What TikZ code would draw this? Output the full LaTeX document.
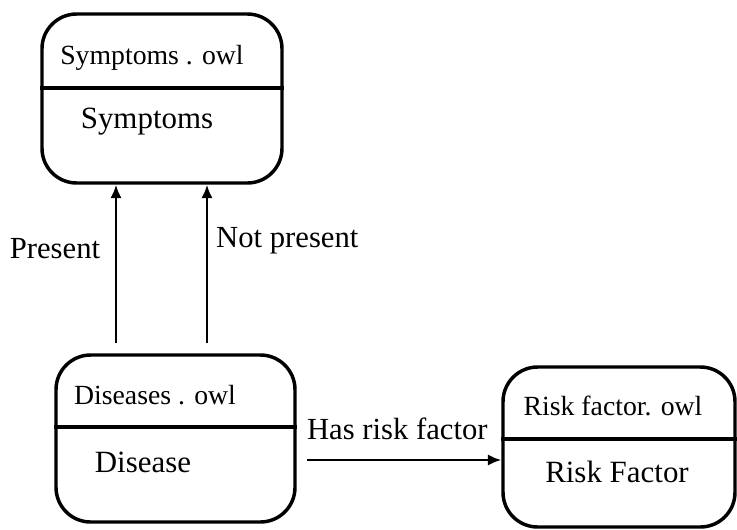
\documentclass[tikz,border=0pt]{standalone}
\usepackage{fontspec}
\setmainfont{Liberation Serif}
\usetikzlibrary{arrows.meta,calc}

\begin{document}
\begin{tikzpicture}[
  x=0.75pt, y=-0.75pt,
  owlbox/.style={draw, line width=2.6pt, rounded corners=26pt, inner sep=0pt},
  divline/.style={line width=2.6pt},
  head/.style={font=\fontsize{20.8}{24}\selectfont, inner sep=0pt},
  body/.style={font=\fontsize{23.2}{27}\selectfont, inner sep=0pt},
  rel/.style={-{Latex[length=10pt,width=8.5pt]}, line width=1.8pt},
  lab/.style={font=\fontsize{23}{27}\selectfont, inner sep=0pt}]
\useasboundingbox (0,0) rectangle (737,529);
% ontology boxes
\node[owlbox, minimum width=180pt, minimum height=126.75pt] (sym) at (162,98.5) {};
\node[owlbox, minimum width=179.25pt, minimum height=125.25pt] (dis) at (175.5,438.5) {};
\node[owlbox, minimum width=174pt, minimum height=120pt] (risk) at (619,447) {};
% headers and dividers
\node[head] (symhead) at (152,58) {Symptoms . owl};
\node[body] (symbody) at (147,122) {Symptoms};
\coordinate (symdiv) at (0,88);
\draw[divline] (sym.west |- symdiv) -- (sym.east |- symdiv);
\node[head] (dishead) at (155,395) {Diseases . owl};
\node[body] (disbody) at (143,462) {Disease};
\coordinate (disdiv) at (0,427);
\draw[divline] (dis.west |- disdiv) -- (dis.east |- disdiv);
\node[head] (riskhead) at (613,406) {Risk factor. owl};
\node[body] (riskbody) at (617,472) {Risk Factor};
\coordinate (riskdiv) at (0,439);
\draw[divline] (risk.west |- riskdiv) -- (risk.east |- riskdiv);
% relations
\coordinate (pres) at ($(dis.north)+(-59.5,-10)$);
\coordinate (npres) at ($(dis.north)+(31.5,-10)$);
\draw[rel] (pres) -- node[lab, left=11pt, pos=0.6] {Present} (pres |- sym.south);
\draw[rel] (npres) -- node[lab, right=6pt, pos=0.65] {Not present} (npres |- sym.south);
\coordinate (hrf) at ($(dis.east)+(10,21.5)$);
\draw[rel] (hrf) -- node[lab, above=14pt, xshift=-5pt] {Has risk factor} (hrf -| risk.west);
\end{tikzpicture}
\end{document}
